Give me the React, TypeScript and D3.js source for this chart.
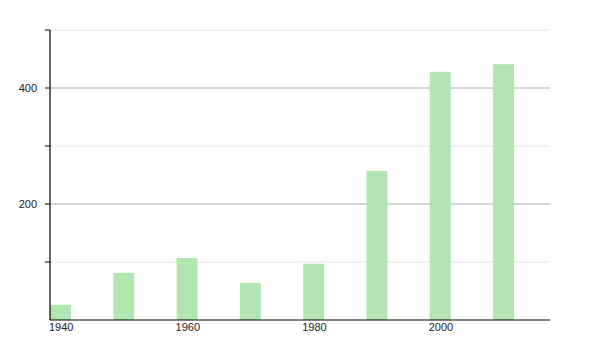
import React from "react";
import * as d3 from "d3";

const years = [1940, 1950, 1960, 1970, 1980, 1990, 2000, 2010];
const values = [26, 81, 107, 64, 97, 257, 428, 441];
const xTicks = [1940, 1960, 1980, 2000];
const yMajor = [200, 400];
const yMinor = [100, 300, 500];

export default function App() {
  const W = 600, H = 350;
  const left = 50, right = 550, top = 30, bottom = 320;
  const x = d3.scaleLinear().domain([1940, 2019]).range([left, right]);
  const y = d3.scaleLinear().domain([0, 500]).range([bottom, top]);
  const barW = 21;
  const font = "Liberation Sans, Arial, sans-serif";
  return (
    <svg width={W} height={H} style={{ position: "absolute", left: 0, top: 0 }}>
      <rect width={W} height={H} fill="#fff" />
      {yMinor.map((v) => (
        <line key={"mi" + v} x1={left} x2={right} y1={y(v)} y2={y(v)} stroke="#e4e4e4" strokeWidth={1} />
      ))}
      {yMajor.map((v) => (
        <line key={"ma" + v} x1={left} x2={right} y1={y(v)} y2={y(v)} stroke="#aaaaaa" strokeWidth={1} />
      ))}
      {years.map((yr, i) => (
        <rect key={yr} x={x(yr)} y={y(values[i])} width={barW} height={bottom - y(values[i])} fill="#b2e5b2" />
      ))}
      <line x1={left} x2={left} y1={top} y2={bottom} stroke="#000" strokeWidth={1.2} />
      <line x1={left} x2={right} y1={bottom} y2={bottom} stroke="#000" strokeWidth={1.2} />
      {[...yMajor, ...yMinor].map((v) => (
        <line key={"t" + v} x1={left - 5} x2={left} y1={y(v)} y2={y(v)} stroke="#000" strokeWidth={1} />
      ))}
      {yMajor.map((v) => (
        <text key={"yl" + v} x={left - 13} y={y(v)} dy="0.35em" textAnchor="end" fontSize={11} fontFamily={font} fill="#222">
          {v}
        </text>
      ))}
      {xTicks.map((t) => (
        <text key={"xl" + t} x={x(t) - 1} y={bottom + 11} textAnchor="start" fontSize={11} fontFamily={font} fill="#222">
          {t}
        </text>
      ))}
    </svg>
  );
}
